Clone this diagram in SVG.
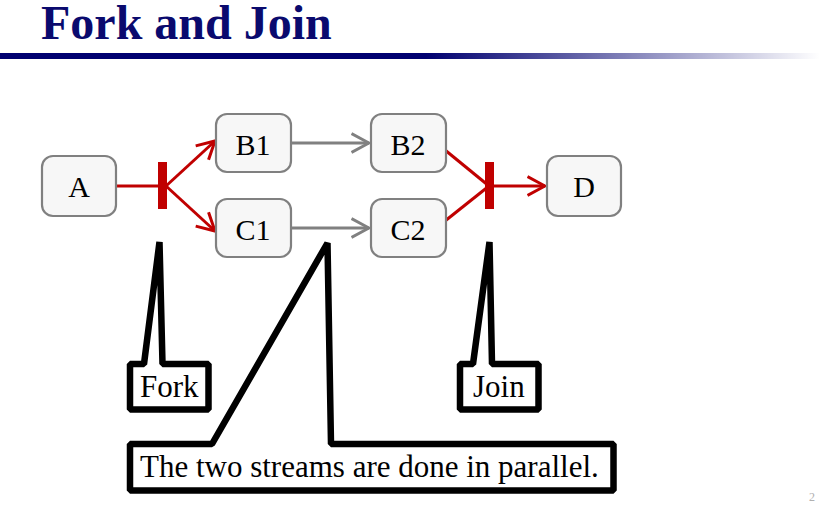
<svg xmlns="http://www.w3.org/2000/svg" width="820" height="509" viewBox="0 0 820 509">
  <defs>
    <linearGradient id="rule" x1="0" y1="0" x2="820" y2="0" gradientUnits="userSpaceOnUse">
      <stop offset="0" stop-color="#000070"/>
      <stop offset="0.52" stop-color="#000070"/>
      <stop offset="1" stop-color="#000070" stop-opacity="0"/>
    </linearGradient>
    <marker id="head-red" viewBox="0 0 20 22" refX="18.5" refY="11" markerWidth="20" markerHeight="22" markerUnits="userSpaceOnUse" orient="auto">
      <polyline points="1,1.5 18.5,11 1,20.5" fill="none" stroke="#c00000" stroke-width="3"/>
    </marker>
    <marker id="head-grey" viewBox="0 0 20 22" refX="18.5" refY="11" markerWidth="20" markerHeight="22" markerUnits="userSpaceOnUse" orient="auto">
      <polyline points="1,1.5 18.5,11 1,20.5" fill="none" stroke="#808080" stroke-width="3"/>
    </marker>
  </defs>
  <style>
    .title { font-family: "Liberation Serif", "Times New Roman", serif; font-weight: bold; font-size: 48px; fill: #0a0a6e; }
    .node rect { fill: #f7f7f7; stroke: #808080; stroke-width: 2.2; }
    .node text { font-family: "Liberation Serif", "Times New Roman", serif; font-size: 30px; fill: #000; text-anchor: middle; }
    .red { stroke: #c00000; stroke-width: 3; fill: none; }
    .grey { stroke: #808080; stroke-width: 3; fill: none; }
    .bar { fill: #c00000; }
    .callout path { fill: #fff; stroke: #000; stroke-width: 6.5; stroke-linejoin: bevel; }
    .callout text { font-family: "Liberation Serif", "Times New Roman", serif; font-size: 31px; fill: #000; }
    .pageno { font-family: "Liberation Serif", "Times New Roman", serif; font-size: 12px; fill: #b0b0b0; }
  </style>

  <!-- heading -->
  <text class="title" x="41" y="39">Fork and Join</text>
  <rect x="0" y="53" width="820" height="6" fill="url(#rule)"/>

  <!-- connectors -->
  <g id="connectors">
    <line class="red" x1="116" y1="186" x2="160" y2="186"/>
    <line class="red" x1="166" y1="186" x2="215" y2="141" marker-end="url(#head-red)"/>
    <line class="red" x1="166" y1="186" x2="215" y2="231" marker-end="url(#head-red)"/>
    <line class="grey" x1="291" y1="143" x2="369" y2="143" marker-end="url(#head-grey)"/>
    <line class="grey" x1="291" y1="228" x2="369" y2="228" marker-end="url(#head-grey)"/>
    <line class="red" x1="445" y1="150" x2="489" y2="186"/>
    <line class="red" x1="445" y1="221" x2="489" y2="186"/>
    <line class="red" x1="492" y1="186" x2="545" y2="186" marker-end="url(#head-red)"/>
    <rect id="fork-bar" class="bar" x="158" y="162" width="9" height="47"/>
    <rect id="join-bar" class="bar" x="485" y="162" width="9" height="47"/>
  </g>

  <!-- activity nodes -->
  <g id="node-A" class="node">
    <rect x="42" y="156" width="74" height="60" rx="11"/>
    <text x="79" y="197">A</text>
  </g>
  <g id="node-B1" class="node">
    <rect x="216" y="114" width="75" height="58" rx="11"/>
    <text x="253" y="155">B1</text>
  </g>
  <g id="node-C1" class="node">
    <rect x="216" y="199" width="75" height="58" rx="11"/>
    <text x="253" y="240">C1</text>
  </g>
  <g id="node-B2" class="node">
    <rect x="371" y="114" width="75" height="58" rx="11"/>
    <text x="408" y="155">B2</text>
  </g>
  <g id="node-C2" class="node">
    <rect x="371" y="199" width="75" height="58" rx="11"/>
    <text x="408" y="240">C2</text>
  </g>
  <g id="node-D" class="node">
    <rect x="547" y="156" width="74" height="60" rx="11"/>
    <text x="584" y="197">D</text>
  </g>

  <!-- callouts -->
  <g id="callout-fork" class="callout">
    <path d="M130,364 H144 L159.5,242 L162.5,364 H208.5 V409.5 H130 Z"/>
    <text x="140" y="397">Fork</text>
  </g>
  <g id="callout-join" class="callout">
    <path d="M460,364 H473 L489.5,242 L492,364 H538.5 V409.5 H460 Z"/>
    <text x="473" y="397">Join</text>
  </g>
  <g id="callout-parallel" class="callout">
    <path d="M130,444 H212 L327.5,243 L331,444 H613.5 V490.5 H130 Z"/>
    <text x="140" y="477">The two streams are done in parallel.</text>
  </g>

  <text class="pageno" x="809" y="501">2</text>
</svg>
